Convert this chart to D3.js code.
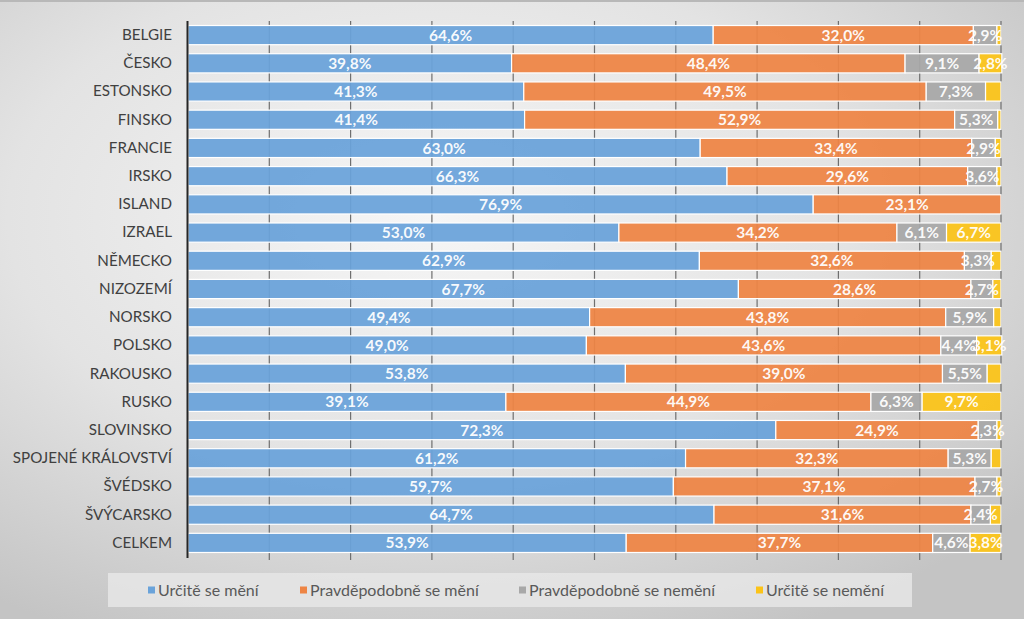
<!DOCTYPE html>
<html>
<head>
<meta charset="utf-8">
<script src="https://cdn.jsdelivr.net/npm/d3@7"></script>
<style>
  html, body { margin: 0; padding: 0; background: #d4d4d4; }
  svg { display: block; }
</style>
</head>
<body>
<script>
// answers per country, in percent
var countries = ['BELGIE', 'ČESKO', 'ESTONSKO', 'FINSKO', 'FRANCIE', 'IRSKO', 'ISLAND', 'IZRAEL',
  'NĚMECKO', 'NIZOZEMÍ', 'NORSKO', 'POLSKO', 'RAKOUSKO', 'RUSKO', 'SLOVINSKO',
  'SPOJENÉ KRÁLOVSTVÍ', 'ŠVÉDSKO', 'ŠVÝCARSKO', 'CELKEM']
var urciteMeni = [64.6, 39.8, 41.3, 41.4, 63.0, 66.3, 76.9, 53.0, 62.9, 67.7, 49.4, 49.0, 53.8, 39.1, 72.3, 61.2, 59.7, 64.7, 53.9]
var pravdepMeni = [32.0, 48.4, 49.5, 52.9, 33.4, 29.6, 23.1, 34.2, 32.6, 28.6, 43.8, 43.6, 39.0, 44.9, 24.9, 32.3, 37.1, 31.6, 37.7]
var pravdepNemeni = [2.9, 9.1, 7.3, 5.3, 2.9, 3.6, 0, 6.1, 3.3, 2.7, 5.9, 4.4, 5.5, 6.3, 2.3, 5.3, 2.7, 2.4, 4.6]
var urciteNemeni = [0.5, 2.8, 1.9, 0.4, 0.7, 0.5, 0, 6.7, 1.2, 1.0, 0.9, 3.1, 1.7, 9.7, 0.5, 1.2, 0.5, 1.3, 3.8]
var seriesNames = ['Určitě se mění', 'Pravděpodobně se mění', 'Pravděpodobně se nemění', 'Určitě se nemění']
var xTicks = [0, 10, 20, 30, 40, 50, 60, 70, 80, 90, 100]

var colors = ['#6aa3da', '#ee8545', '#a8a8a8', '#fbc318']
var allSeries = [urciteMeni, pravdepMeni, pravdepNemeni, urciteNemeni]

var W = 1024, H = 619
var svg = d3.select('body').append('svg').attr('width', W).attr('height', H)

// background glow like the original picture
var defs = svg.append('defs')
var grad = defs.append('radialGradient').attr('id', 'bg')
  .attr('cx', '42%').attr('cy', '35%').attr('r', '75%')
grad.append('stop').attr('offset', '0%').attr('stop-color', '#f6f6f6')
grad.append('stop').attr('offset', '55%').attr('stop-color', '#e3e3e3')
grad.append('stop').attr('offset', '100%').attr('stop-color', '#c4c4c4')
svg.append('rect').attr('width', W).attr('height', H).attr('fill', 'url(#bg)')
svg.append('rect').attr('width', W).attr('height', 2).attr('fill', '#b8b8b8')

var x = d3.scaleLinear().domain([0, 100]).range([188, 1001])
var y = d3.scaleBand().domain(countries).range([21, 557]).paddingInner(0.32).paddingOuter(0.16)

// grid
svg.append('g').selectAll('line.grid')
  .data(xTicks.slice(1))
  .enter().append('line')
  .attr('class', 'grid')
  .attr('x1', d => x(d)).attr('x2', d => x(d))
  .attr('y1', 21).attr('y2', 560)
  .attr('stroke', '#6f6f6f').attr('stroke-width', 1.2)

// stacked data
var rows = countries.map((c, i) => {
  var x0 = 0
  return allSeries.map((s, k) => {
    var seg = { country: c, k: k, v: s[i], x0: x0 }
    x0 += s[i]
    return seg
  })
})
var segs = d3.merge(rows)

svg.append('g').selectAll('rect.bar')
  .data(segs.filter(d => d.v > 0))
  .enter().append('rect')
  .attr('class', 'bar')
  .attr('x', d => x(d.x0))
  .attr('y', d => y(d.country))
  .attr('width', d => x(d.x0 + d.v) - x(d.x0))
  .attr('height', y.bandwidth())
  .attr('fill', d => colors[d.k])
  .attr('fill-opacity', 0.94)
  .attr('stroke', '#ffffff')
  .attr('stroke-width', 1.2)

// value labels
var fmt = v => v.toFixed(1).replace('.', ',') + '%'
svg.append('g').selectAll('text.val')
  .data(segs.filter(d => d.v > 0 && (d.k < 3 || d.v >= 2.5)))
  .enter().append('text')
  .attr('class', 'val')
  .attr('x', d => x(d.x0 + d.v / 2))
  .attr('y', d => y(d.country) + y.bandwidth() / 2)
  .attr('dy', '0.36em')
  .attr('text-anchor', 'middle')
  .attr('font-family', 'Lato, "Open Sans", sans-serif')
  .attr('font-weight', 'bold')
  .attr('font-size', 15.5)
  .attr('fill', '#ffffff')
  .attr('fill-opacity', 0.95)
  .text(d => fmt(d.v))

// axis line and category labels
var yAxis = d3.axisLeft(y).tickSize(0).tickPadding(16)
var yg = svg.append('g').attr('transform', 'translate(188,0)').call(yAxis)
yg.select('.domain').remove()
yg.selectAll('text')
  .attr('font-family', 'Lato, "Open Sans", sans-serif')
  .attr('font-size', 15.2)
  .attr('fill', '#404040')
svg.append('line')
  .attr('x1', 187.5).attr('x2', 187.5).attr('y1', 21).attr('y2', 558)
  .attr('stroke', '#262626').attr('stroke-width', 2)

// legend
var lg = svg.append('g')
lg.append('rect').attr('x', 108).attr('y', 573).attr('width', 804).attr('height', 34)
  .attr('fill', '#e6e6e6').attr('fill-opacity', 0.85)
var legendX = [148, 300, 519, 756]
var items = lg.selectAll('g.item').data(seriesNames).enter().append('g')
  .attr('class', 'item')
  .attr('transform', (d, i) => 'translate(' + legendX[i] + ',590)')
items.append('rect').attr('x', 0).attr('y', -3.5).attr('width', 7).attr('height', 7)
  .attr('fill', (d, i) => colors[i])
items.append('text').attr('x', 10).attr('dy', '0.35em')
  .attr('font-family', 'Lato, "Open Sans", sans-serif')
  .attr('font-size', 16)
  .attr('fill', '#595959')
  .text(d => d)
</script>
</body>
</html>
